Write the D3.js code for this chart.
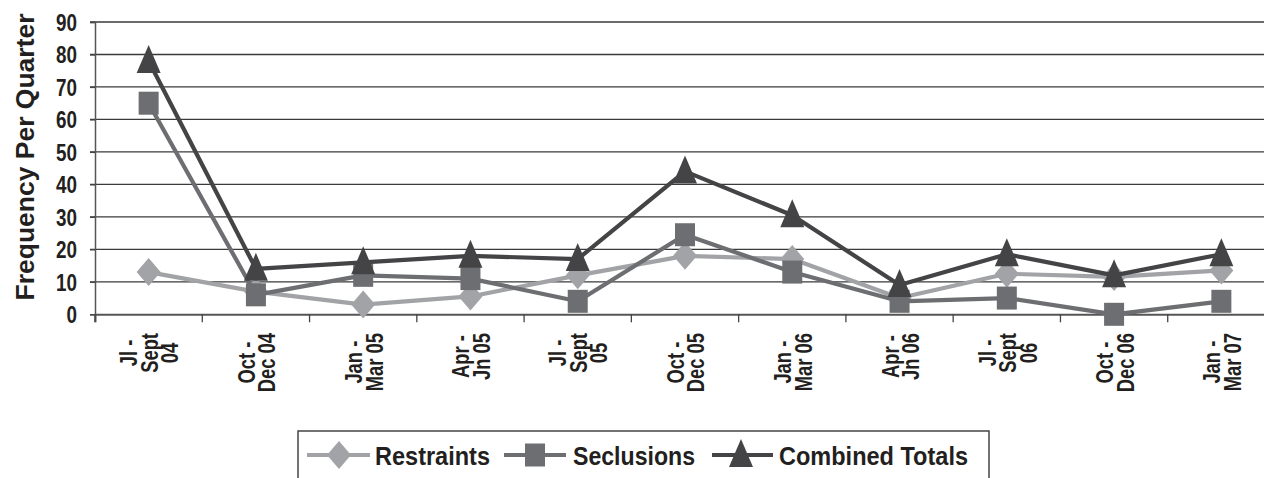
<!DOCTYPE html>
<html>
<head>
<meta charset="utf-8">
<script src="https://cdn.jsdelivr.net/npm/d3@7"></script>
<style>
  html, body { margin: 0; padding: 0; background: #fff; }
  svg { display: block; }
  text { font-family: "Liberation Sans", Arial, sans-serif; font-weight: bold; fill: #231f20; }
</style>
</head>
<body>
<svg id="chart" width="1264" height="478"></svg>
<script>
// ---- data ----
const categories = ["Jl -\nSept\n04", "Oct -\nDec 04", "Jan -\nMar 05", "Apr -\nJn 05", "Jl -\nSept\n05",
  "Oct -\nDec 05", "Jan -\nMar 06", "Apr -\nJn 06", "Jl -\nSept\n06", "Oct -\nDec 06", "Jan -\nMar 07"];
const restraints = [13, 7, 3, 5.5, 12, 18, 17, 5, 12.5, 11.5, 13.5];
const seclusions = [65, 6, 12, 11, 4, 24.5, 13, 4, 5, 0, 4];
const combined = [78, 14, 16, 18, 17, 44, 30.5, 9, 18.5, 12, 18.5];
const yTicks = [0, 10, 20, 30, 40, 50, 60, 70, 80, 90];
const seriesNames = ["Restraints", "Seclusions", "Combined Totals"];
const seriesColors = ["#a2a3a6", "#6d6e71", "#444446"];
const seriesShapes = ["diamond", "square", "triangle"];
const yTitle = "Frequency Per Quarter";

(function () {
const svg = d3.select("#chart");
const pLeft = 95, pRight = 1275, pTop = 22, pBottom = 314.3;

const x = d3.scaleBand().domain(categories).range([pLeft, pRight]).padding(0);
const bw = x.bandwidth();
const y = d3.scaleLinear().domain([0, 90]).range([pBottom, pTop]);

// gridlines
svg.append("g").selectAll("line").data(yTicks.filter(d => d > 0)).join("line")
  .attr("x1", pLeft - 5).attr("x2", 1264)
  .attr("y1", d => y(d)).attr("y2", d => y(d))
  .attr("stroke", "#3a3a3a").attr("stroke-width", 1.3);

// y axis
const yAxis = svg.append("g").attr("transform", `translate(${pLeft},0)`)
  .call(d3.axisLeft(y).tickValues(yTicks).tickSize(5).tickPadding(0));
yAxis.select(".domain").attr("stroke", "#555").attr("stroke-width", 1.5);
yAxis.selectAll(".tick line").attr("stroke", "#444").attr("stroke-width", 1.3);
yAxis.selectAll(".tick text")
  .attr("font-size", 23).attr("font-family", "Liberation Sans, Arial, sans-serif")
  .attr("font-weight", "bold").attr("fill", "#231f20")
  .attr("x", -18 / 0.82).attr("dy", "0.36em")
  .attr("transform", "scale(0.82,1)");

// x axis
const xAxis = svg.append("g").attr("transform", `translate(0,${pBottom})`)
  .call(d3.axisBottom(x).tickSize(8).tickFormat(""));
xAxis.select(".domain").attr("stroke", "#555").attr("stroke-width", 2);
xAxis.selectAll(".tick line").attr("stroke", "#444").attr("stroke-width", 1.3)
  .attr("transform", `translate(${-bw / 2},0)`);

// x labels (rotated, multi-line)
const fx = 23, kx = 0.8, cap = 0.716 * fx, lineGap = 20.5;
categories.forEach(c => {
  const lines = c.split("\n");
  const cx = x(c) + bw / 2 + 1;
  const g = svg.append("g");
  const texts = lines.map((ln) => g.append("text").text(ln)
    .attr("font-size", fx).attr("text-anchor", "middle"));
  const maxLen = d3.max(texts, t => t.node().getComputedTextLength()) * kx;
  const cy = 333 + maxLen / 2;
  texts.forEach((t, i) => {
    const sx = cx + (i - (lines.length - 1) / 2) * lineGap;
    t.attr("transform", `translate(${sx + cap / 2},${cy}) rotate(-90) scale(${kx},1)`);
  });
});

// y title
svg.append("text").text(yTitle)
  .attr("font-size", 26).attr("text-anchor", "middle")
  .attr("transform", "translate(34,157) rotate(-90)")
  .attr("textLength", 287).attr("lengthAdjust", "spacingAndGlyphs");

// marker drawing
function marker(sel, shape, color) {
  if (shape === "diamond") {
    sel.append("path").attr("d", "M0,-14 L12,0 L0,14 L-12,0 Z").attr("fill", color);
  } else if (shape === "square") {
    sel.append("rect").attr("x", -10).attr("y", -11.5).attr("width", 20).attr("height", 23).attr("fill", color);
  } else {
    sel.append("path").attr("d", "M0,-16 L12,12 L-12,12 Z").attr("fill", color);
  }
}

const allSeries = [restraints, seclusions, combined];
const line = d3.line().x((d, i) => x(categories[i]) + bw / 2).y(d => y(d));
allSeries.forEach((vals, si) => {
  const g = svg.append("g");
  g.append("path").datum(vals).attr("d", line)
    .attr("fill", "none").attr("stroke", seriesColors[si]).attr("stroke-width", 4.2)
    .attr("stroke-linejoin", "round");
  vals.forEach((v, i) => {
    const m = g.append("g").attr("transform", `translate(${x(categories[i]) + bw / 2},${y(v)})`);
    marker(m, seriesShapes[si], seriesColors[si]);
  });
});

// legend
const lg = svg.append("g");
lg.append("rect").attr("x", 298).attr("y", 431).attr("width", 691).attr("height", 52)
  .attr("fill", "#fff").attr("stroke", "#444").attr("stroke-width", 1.5);
const legendItems = [
  { x0: 307, x1: 370, mx: 339, tx: 375, tl: 115 },
  { x0: 504, x1: 566, mx: 535, tx: 573, tl: 122 },
  { x0: 712, x1: 773, mx: 741, tx: 779, tl: 189 }
];
legendItems.forEach((it, si) => {
  const ly = 455;
  lg.append("line").attr("x1", it.x0).attr("x2", it.x1).attr("y1", ly).attr("y2", ly)
    .attr("stroke", seriesColors[si]).attr("stroke-width", 4.2);
  const m = lg.append("g").attr("transform", `translate(${it.mx},${ly})`);
  marker(m, seriesShapes[si], seriesColors[si]);
  lg.append("text").text(seriesNames[si]).attr("x", it.tx).attr("y", ly + 10)
    .attr("font-size", 25.5).attr("textLength", it.tl).attr("lengthAdjust", "spacingAndGlyphs");
});
})();
</script>
</body>
</html>
